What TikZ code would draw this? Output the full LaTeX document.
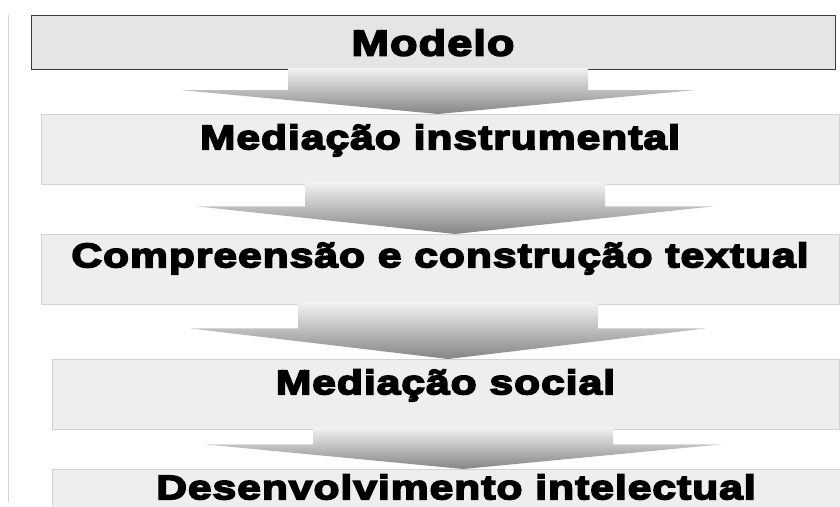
\documentclass[tikz,border=0pt]{standalone}
\usepackage{fontspec}
\setmainfont{Liberation Sans}
\newfontfamily\heavyfont{Liberation Sans Bold}[FakeBold=5,FakeStretch=1.25,LetterSpace=3]
\usepackage{tikz}
\usetikzlibrary{positioning}
\usetikzlibrary{calc}

\definecolor{frameline}{HTML}{3C3C3C}
\definecolor{paleline}{HTML}{D2D2D2}
\definecolor{topfill}{HTML}{E5E5E5}
\definecolor{stepfill}{HTML}{EEEEEE}

\tikzset{
	stagebox/.style={anchor=north, inner sep=0pt, minimum height=#1,
		font=\heavyfont\fontsize{34}{38}\selectfont},
	arrowshade/.style={top color=black!5, bottom color=black!48}
}

\begin{document}
\begin{tikzpicture}[x=1pt, y=-1pt]
	\useasboundingbox (0,0) rectangle (840,506);
	\draw[paleline] (8,15) -- (8,502);

	\node[stagebox=54, draw=frameline, fill=topfill, line width=1pt,
		minimum width=804, text height=40, text depth=14,
		font=\heavyfont\fontsize{36}{40}\selectfont] (modelo) at (433,15) {Modelo};
	\node[stagebox=70, draw=paleline, fill=stepfill,
		minimum width=798, text height=35, text depth=35] (medinst) at (440,114) {Mediação instrumental};
	\node[stagebox=70, draw=paleline, fill=stepfill,
		minimum width=798, text height=33, text depth=37] (compr) at (440,234) {Compreensão e construção textual};
	\node[stagebox=70, draw=paleline, fill=stepfill,
		minimum width=787, text height=35, text depth=35] (medsoc) at (445.5,359) {Mediação social};
	\node[stagebox=70, draw=paleline, fill=stepfill,
		minimum width=808, text height=30, text depth=40] (desenv) at (456,469) {Desenvolvimento intelectual};

	% arrows between the stages
	\foreach \a/\b/\cx/\sl in {modelo/medinst/438/20, medinst/compr/455/22,
		compr/medsoc/448/24, medsoc/desenv/463/15}
		\shade[arrowshade] let \p1=(\a.south), \p2=(\b.north), \p3=(\cx,0) in
			(\x3-150pt,\y1+2pt) -- (\x3+150pt,\y1+2pt) -- (\x3+150pt,\y1-\sl pt)
			-- (\x3+258pt,\y1-\sl pt) -- (\x3,\y2) -- (\x3-258pt,\y1-\sl pt)
			-- (\x3-150pt,\y1-\sl pt) -- cycle;
\end{tikzpicture}
\end{document}
